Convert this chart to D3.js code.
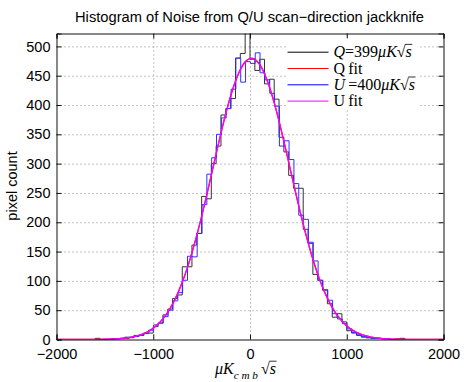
<!DOCTYPE html>
<html>
<head>
<meta charset="utf-8">
<script src="https://cdn.jsdelivr.net/npm/d3@7"></script>
<style>
  body { margin: 0; background: #fff; }
  svg { display: block; }
</style>
</head>
<body>
<svg id="chart" width="466" height="382"></svg>
<script>
// histogram counts, bins of 50 starting at the edge given below
var binWidth = 50;
var qStart = -1600;
var uStart = -1596;
var qCounts = [2, 0, 0, 0, 1, 1, 2, 3, 7, 7, 11, 11, 22, 28, 42, 52,
  70, 76, 124, 124, 161, 181, 244, 240, 300, 330, 383, 394, 411, 480, 488, 545,
  478, 459, 478, 436, 444, 410, 345, 320, 280, 258, 258, 188, 164, 111, 101, 84,
  61, 38, 44, 30, 15, 11, 7, 4, 3, 2, 2, 1, 1, 0, 1, 2];
var uCounts = [0, 0, 0, 1, 1, 2, 4, 4, 5, 7, 10, 16, 25, 28, 39, 50,
  66, 80, 101, 142, 141, 181, 230, 282, 310, 350, 378, 394, 427, 480, 439, 474,
  471, 489, 455, 443, 420, 398, 330, 339, 307, 266, 212, 205, 166, 134, 101, 85,
  67, 44, 35, 27, 18, 12, 8, 5, 3, 2, 2, 1, 1, 0, 0, 0];

// fitted gaussians, sampled every 50 from -2000 to 2000 (81 points)
var fitX = d3.range(-2000, 2001, 50);
var qFit = [
  0, 0, 0, 0, 0, 0, 0.1, 0.1, 0.1, 0.2,
  0.4, 0.6, 0.9, 1.4, 2.2, 3.2, 4.8, 6.9, 9.9, 13.9,
  19.2, 26.2, 35.2, 46.5, 60.4, 77.4, 97.5, 120.9, 147.7, 177.6,
  209.6, 244.3, 280.3, 316.6, 352.1, 385.5, 415.5, 440.8, 460.6, 473.7,
  479.7, 478.2, 469.3, 453.4, 431.3, 404.0, 372.5, 338.1, 302.1, 265.8,
  230.2, 196.3, 165.3, 136.6, 111.1, 89.0, 70.2, 54.5, 41.6, 31.3,
  23.2, 16.9, 12.2, 8.6, 6.0, 4.1, 2.8, 1.8, 1.2, 0.8,
  0.5, 0.3, 0.2, 0.1, 0.1, 0, 0, 0, 0, 0,
  0];
var uFit = [
  0, 0, 0, 0, 0, 0, 0.1, 0.1, 0.1, 0.2,
  0.4, 0.6, 0.9, 1.4, 2.2, 3.3, 4.9, 7.0, 10.0, 14.0,
  19.4, 26.5, 35.5, 46.8, 60.8, 77.8, 98.0, 121.4, 148.2, 178.0,
  210.0, 244.6, 280.5, 316.7, 352.0, 385.2, 415.0, 440.2, 459.9, 473.0,
  479.0, 477.6, 468.8, 453.0, 431.1, 404.0, 372.6, 338.3, 302.5, 266.3,
  230.8, 197.0, 166.0, 137.3, 111.8, 89.6, 70.7, 55.0, 42.0, 31.7,
  23.5, 17.1, 12.4, 8.8, 6.1, 4.2, 2.9, 1.9, 1.2, 0.8,
  0.5, 0.3, 0.2, 0.1, 0.1, 0, 0, 0, 0, 0,
  0];

var xTicks = [-2000, -1000, 0, 1000, 2000];
var yTicks = [0, 50, 100, 150, 200, 250, 300, 350, 400, 450, 500];
var legendRows = [
  { color: "#000", parts: [{t: "Q", it: 1}, {t: "=399"}, {t: "\u03bcK", it: 1}, {t: "\u221a"}, {t: "s", it: 1, over: 1}] },
  { color: "#ff0000", parts: [{t: "Q"}, {t: "\u2009fit"}] },
  { color: "#0000ff", parts: [{t: "U", it: 1}, {t: "\u2009=400"}, {t: "\u03bcK", it: 1}, {t: "\u221a"}, {t: "s", it: 1, over: 1}] },
  { color: "#ff00ff", parts: [{t: "U"}, {t: "\u2009fit"}] }
];

var margin = { top: 33, right: 23, bottom: 43, left: 56 };
var svgWidth = 466, svgHeight = 382;
var width = svgWidth - margin.left - margin.right;
var height = svgHeight - margin.top - margin.bottom;
var serif = "'Liberation Serif', 'DejaVu Serif', serif";
var sans = "'Liberation Sans', Arial, sans-serif";

var svg = d3.select("#chart");
var g = svg.append("g")
  .attr("transform", "translate(" + (margin.left + 0.5) + "," + (margin.top + 0.5) + ")");

var x = d3.scaleLinear().domain([-2000, 2000]).range([0, width]);
var y = d3.scaleLinear().domain([0, 522]).range([height, 0]);

// dotted grid
g.append("g")
  .attr("class", "grid")
  .attr("transform", "translate(0," + height + ")")
  .call(d3.axisBottom(x).tickValues(xTicks.slice(1, -1)).tickSize(-height).tickFormat(""));
g.append("g")
  .attr("class", "grid")
  .call(d3.axisLeft(y).tickValues(yTicks.slice(1)).tickSize(-width).tickFormat(""));
g.selectAll(".grid .domain").remove();
g.selectAll(".grid line")
  .attr("stroke", "#888")
  .attr("stroke-dasharray", "1,3");

g.append("clipPath").attr("id", "clip")
  .append("rect").attr("width", width).attr("height", height);

function stairs(start, counts) {
  var pts = [[start, 0]];
  counts.forEach(function(c, i) {
    pts.push([start + i * binWidth, c]);
    pts.push([start + (i + 1) * binWidth, c]);
  });
  pts.push([start + counts.length * binWidth, 0]);
  return pts;
}

var stepLine = d3.line()
  .x(function(d) { return x(d[0]); })
  .y(function(d) { return y(d[1]); });
var fitLine = d3.line()
  .x(function(d, i) { return x(fitX[i]); })
  .y(function(d) { return y(d); })
  .curve(d3.curveCatmullRom);

var plot = g.append("g").attr("clip-path", "url(#clip)");
plot.append("path").datum(stairs(qStart, qCounts))
  .attr("fill", "none").attr("stroke", "#333").attr("stroke-width", 1)
  .attr("d", stepLine);
plot.append("path").datum(qFit)
  .attr("fill", "none").attr("stroke", "#ff0000").attr("stroke-width", 1.3)
  .attr("d", fitLine);
plot.append("path").datum(stairs(uStart, uCounts))
  .attr("fill", "none").attr("stroke", "#3030ff").attr("stroke-width", 1)
  .attr("d", stepLine);
plot.append("path").datum(uFit)
  .attr("fill", "none").attr("stroke", "#ff00ff").attr("stroke-width", 1.3)
  .attr("d", fitLine);

// axes with inward ticks on all four sides
g.append("g")
  .attr("transform", "translate(0," + height + ")")
  .call(d3.axisBottom(x).tickValues(xTicks).tickSize(-5).tickPadding(9)
    .tickFormat(function(d) { return d < 0 ? "\u2212" + Math.abs(d) : d; }));
g.append("g")
  .call(d3.axisLeft(y).tickValues(yTicks).tickSize(-5).tickPadding(6));
g.append("g")
  .call(d3.axisTop(x).tickValues(xTicks).tickSize(-5).tickFormat(""));
g.append("g")
  .attr("transform", "translate(" + width + ",0)")
  .call(d3.axisRight(y).tickValues(yTicks).tickSize(-5).tickFormat(""));
g.selectAll(".domain").attr("stroke", "#111");
g.selectAll(".tick line").filter(function() { return !this.closest(".grid"); })
  .attr("stroke", "#111");
g.selectAll(".tick text")
  .attr("font-family", sans)
  .attr("font-size", 14.5)
  .attr("fill", "#000");

// legend, white box without border
var legend = g.append("g").attr("transform", "translate(" + (287 - margin.left) + "," + (38 - margin.top) + ")");
legend.append("rect")
  .attr("x", 0).attr("y", 0).attr("width", 131).attr("height", 70)
  .attr("fill", "#fff");

function mathText(parent, x0, y0, parts, size) {
  var cx = x0;
  parts.forEach(function(p) {
    var fs = p.sub ? size * 0.7 : size;
    var t = parent.append("text")
      .attr("x", cx)
      .attr("y", y0 + (p.sub ? size * 0.3 : 0))
      .attr("font-family", serif)
      .attr("font-size", fs)
      .attr("font-style", p.it ? "italic" : "normal")
      .attr("fill", "#000")
      .text(p.t);
    var w = t.node().getComputedTextLength();
    if (p.over) {
      parent.append("line")
        .attr("x1", cx - 0.5).attr("x2", cx + w + 0.5)
        .attr("y1", y0 - size * 0.8).attr("y2", y0 - size * 0.8)
        .attr("stroke", "#000").attr("stroke-width", 0.8);
    }
    cx += w;
  });
  return cx - x0;
}

legendRows.forEach(function(r, i) {
  var ly = 13.7 + i * 16.3;
  legend.append("line")
    .attr("x1", 0).attr("x2", 41)
    .attr("y1", ly).attr("y2", ly)
    .attr("stroke", r.color).attr("stroke-width", 1);
  mathText(legend, 46, ly + 5, r.parts, 16);
});

// title and axis labels
svg.append("text")
  .attr("x", margin.left + width / 2)
  .attr("y", 22)
  .attr("text-anchor", "middle")
  .attr("font-family", sans)
  .attr("font-size", 14.7)
  .text("Histogram of Noise from Q/U scan\u2212direction jackknife");

svg.append("text")
  .attr("transform", "translate(16.5," + (margin.top + height / 2) + ") rotate(-90)")
  .attr("text-anchor", "middle")
  .attr("font-family", sans)
  .attr("font-size", 14.5)
  .text("pixel count");

var xl = svg.append("g");
var xlw = mathText(xl, 0, 0, [
  {t: "\u03bcK", it: 1},
  {t: "c m b", it: 1, sub: 1},
  {t: "\u2009\u221a"},
  {t: "s", it: 1, over: 1}
], 16);
xl.attr("transform", "translate(" + (margin.left + width / 2 - 4 - xlw / 2) + ",374)");
</script>
</body>
</html>
